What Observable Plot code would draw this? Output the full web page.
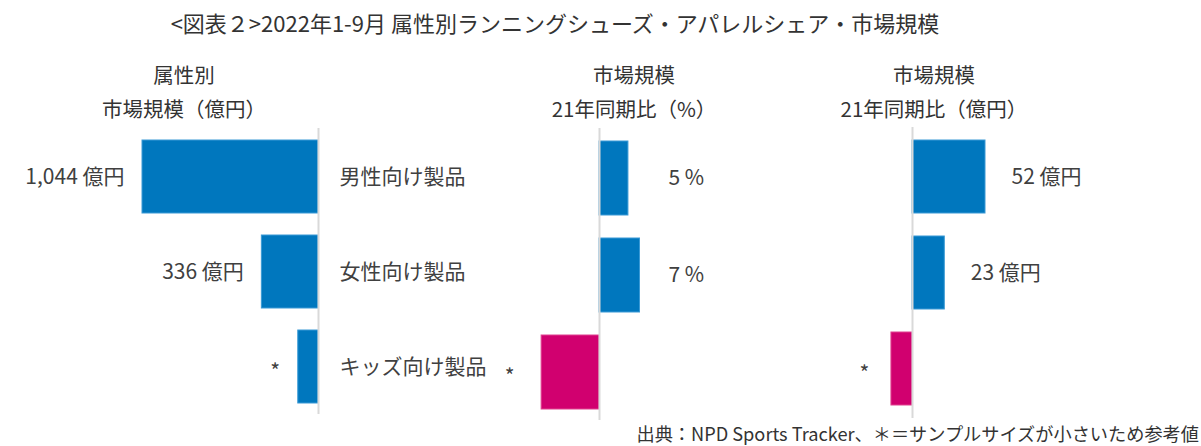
<!DOCTYPE html>
<html>
<head>
<meta charset="utf-8">
<script src="https://cdn.jsdelivr.net/npm/d3@7"></script>
<script src="https://cdn.jsdelivr.net/npm/@observablehq/plot@0.6"></script>
<style>
  html, body { margin: 0; padding: 0; background: #fff; }
  body { font-family: "Noto Sans CJK JP", "Noto Sans", sans-serif; color: #404040; }
  #wrap { position: relative; width: 1201px; height: 446px; overflow: hidden; }
  .abs { position: absolute; white-space: nowrap; }
  .title { top: 6px; left: 0; width: 1110px; text-align: center; font-size: 22px; color: #333; }
  .sub { font-size: 20.5px; text-align: center; width: 240px; line-height: 34px; color: #333; }
  .foot { right: 2px; top: 420px; font-size: 18.2px; color: #333; }
</style>
</head>
<body>
<div id="wrap">
  <div class="abs title" id="title"></div>
  <div class="abs sub" id="h1" style="left:64px; top:57px;"></div>
  <div class="abs sub" id="h2" style="left:514px; top:57px;"></div>
  <div class="abs sub" id="h3" style="left:814px; top:57px;"></div>
  <div class="abs foot" id="foot"></div>
</div>
<script>
// ---- data ----
const categories = ["男性向け製品", "女性向け製品", "キッズ向け製品"];
const marketSize = [1044, 336, 120];            // 億円 (kids: small-sample estimate)
const marketSizeLabels = ["1,044 億円", "336 億円", "*"];
const yoyPct = [5, 7, -10];                     // % vs 2021
const yoyPctLabels = ["5 %", "7 %", "*"];
const yoyAmount = [52, 23, -15];                // 億円 vs 2021
const yoyAmountLabels = ["52 億円", "23 億円", "*"];

const titleText = "<図表２>2022年1-9月 属性別ランニングシューズ・アパレルシェア・市場規模";
const headers = [
  ["属性別", "市場規模（億円）"],
  ["市場規模", "21年同期比（%）"],
  ["市場規模", "21年同期比（億円）"]
];
const footText = "出典：NPD Sports Tracker、＊＝サンプルサイズが小さいため参考値";

// ---- text ----
document.getElementById("title").textContent = titleText;
["h1","h2","h3"].forEach((id, i) => {
  document.getElementById(id).innerHTML = headers[i].map(t => `<div>${t}</div>`).join("");
});
document.getElementById("foot").textContent = footText;

const BLUE = "#0077BE", MAGENTA = "#D1006F", AXIS = "#D9D9D9", TEXT = "#404040";
const FONT = `"Noto Sans CJK JP", "Noto Sans", sans-serif`;

function rows(values, labels) {
  return categories.map((c, i) => ({cat: c, v: values[i], label: labels[i]}));
}
const isStar = d => d.label === "*";

function panel({xDomain, xRange, yRange, ruleTop, ruleBottom, marks}) {
  const H = 446;
  return Plot.plot({
    width: 1201, height: H,
    marginTop: ruleTop, marginBottom: H - ruleBottom, marginLeft: 0, marginRight: 0,
    style: {background: "transparent", fontFamily: FONT, overflow: "visible"},
    x: {domain: xDomain, range: xRange, axis: null},
    y: {domain: categories, range: yRange, padding: 0.235, axis: null},
    marks
  });
}

const wrap = document.getElementById("wrap");
function add(svg) { svg.style.position = "absolute"; svg.style.left = "0"; svg.style.top = "0"; wrap.appendChild(svg); }

// Panel 1: market size (bars to the left)
const d1 = rows(marketSize, marketSizeLabels);
add(panel({
  xDomain: [0, 1044], xRange: [318, 142], yRange: [117, 426.5], ruleTop: 128, ruleBottom: 414,
  marks: [
    Plot.barX(d1, {x1: 0, x2: "v", y: "cat", fill: BLUE, stroke: "#3A9AD6", strokeWidth: 1}),
    Plot.ruleX([0], {stroke: AXIS, strokeWidth: 2}),
    Plot.text(d1.filter(d => !isStar(d)), {x: "v", y: "cat", text: "label", textAnchor: "end", dx: -18, fontSize: 21, fill: TEXT}),
    Plot.text(d1.filter(isStar), {x: "v", y: "cat", text: "label", textAnchor: "middle", dx: -23, dy: 5, fontSize: 21, fill: TEXT}),
    Plot.text(d1, {x: 0, y: "cat", text: "cat", textAnchor: "start", dx: 21, fontSize: 21, fill: TEXT})
  ]
}));

// Panel 2: YoY %
const d2 = rows(yoyPct, yoyPctLabels);
add(panel({
  xDomain: [0, 7], xRange: [599, 639.5], yRange: [118, 432], ruleTop: 128, ruleBottom: 420,
  marks: [
    Plot.barX(d2, {x1: 0, x2: "v", y: "cat", fill: d => d.v < 0 ? MAGENTA : BLUE, stroke: d => d.v < 0 ? "#E0408F" : "#3A9AD6", strokeWidth: 1}),
    Plot.ruleX([0], {stroke: AXIS, strokeWidth: 2}),
    Plot.text(d2.filter(d => !isStar(d)), {x: 0, y: "cat", text: "label", textAnchor: "start", dx: 69, fontSize: 21, fill: TEXT}),
    Plot.text(d2.filter(isStar), {x: "v", y: "cat", text: "label", textAnchor: "middle", dx: -32, dy: 5, fontSize: 21, fill: TEXT})
  ]
}));

// Panel 3: YoY amount
const d3s = rows(yoyAmount, yoyAmountLabels);
add(panel({
  xDomain: [0, 52], xRange: [912, 985], yRange: [116, 429], ruleTop: 127, ruleBottom: 418,
  marks: [
    Plot.barX(d3s, {x1: 0, x2: "v", y: "cat", fill: d => d.v < 0 ? MAGENTA : BLUE, stroke: d => d.v < 0 ? "#E0408F" : "#3A9AD6", strokeWidth: 1}),
    Plot.ruleX([0], {stroke: AXIS, strokeWidth: 2}),
    Plot.text(d3s.filter(d => !isStar(d)), {x: "v", y: "cat", text: "label", textAnchor: "start", dx: 26, fontSize: 21, fill: TEXT}),
    Plot.text(d3s.filter(isStar), {x: "v", y: "cat", text: "label", textAnchor: "middle", dx: -27, dy: 5, fontSize: 21, fill: TEXT})
  ]
}));
</script>
</body>
</html>
